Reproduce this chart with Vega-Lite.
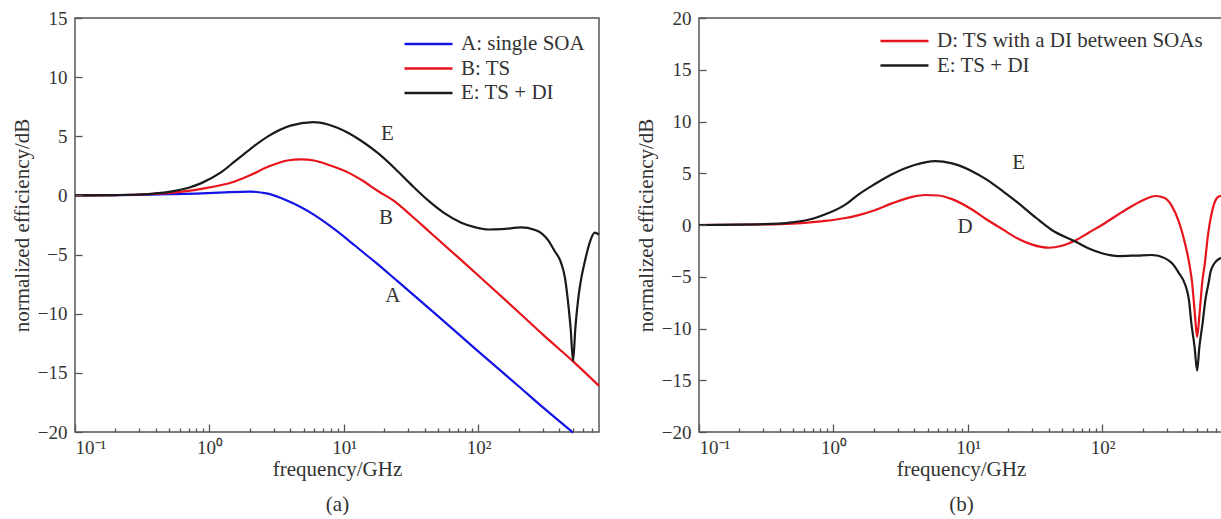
{
  "$schema": "https://vega.github.io/schema/vega-lite/v6.json",
  "padding": {"left": 10, "top": 8, "right": 0, "bottom": 0},
  "background": "white",
  "spacing": 29,
  "config": {
    "view": {"stroke": "#555", "strokeWidth": 1.5},
    "font": "Liberation Serif",
    "axis": {
      "grid": false,
      "domain": false,
      "ticks": true,
      "tickColor": "#555",
      "tickWidth": 1.3,
      "labelFont": "Liberation Serif",
      "labelFontSize": 19,
      "labelColor": "#333",
      "titleFont": "Liberation Serif",
      "titleFontSize": 21,
      "titleFontWeight": "normal",
      "titleColor": "#333"
    },
    "legend": {
      "labelFont": "Liberation Serif",
      "labelFontSize": 21,
      "labelColor": "#333",
      "labelLimit": 500,
      "symbolType": "M-4,0H4",
      "symbolStrokeWidth": 2.5,
      "symbolSize": 144,
      "labelOffset": 22,
      "rowPadding": 2.5,
      "padding": 0,
      "title": null
    },
    "text": {"font": "Liberation Serif", "fontSize": 21, "color": "#333"}
  },
  "datasets": {
    "a": [
      {"s": "A: single SOA", "f": 0.1, "v": 0},
      {"s": "A: single SOA", "f": 0.2, "v": 0.02},
      {"s": "A: single SOA", "f": 0.3, "v": 0.05},
      {"s": "A: single SOA", "f": 0.5, "v": 0.1},
      {"s": "A: single SOA", "f": 0.87, "v": 0.17},
      {"s": "A: single SOA", "f": 1.3, "v": 0.26},
      {"s": "A: single SOA", "f": 2.0, "v": 0.32},
      {"s": "A: single SOA", "f": 2.72, "v": 0.15},
      {"s": "A: single SOA", "f": 3.8, "v": -0.45},
      {"s": "A: single SOA", "f": 4.8, "v": -1.0},
      {"s": "A: single SOA", "f": 6.0, "v": -1.65},
      {"s": "A: single SOA", "f": 7.6, "v": -2.45},
      {"s": "A: single SOA", "f": 10.7, "v": -3.75},
      {"s": "A: single SOA", "f": 13.5, "v": -4.7},
      {"s": "A: single SOA", "f": 16.9, "v": -5.6},
      {"s": "A: single SOA", "f": 25, "v": -7.25},
      {"s": "A: single SOA", "f": 50, "v": -10.2},
      {"s": "A: single SOA", "f": 100, "v": -13.2},
      {"s": "A: single SOA", "f": 200, "v": -16.15},
      {"s": "A: single SOA", "f": 300, "v": -17.9},
      {"s": "A: single SOA", "f": 505, "v": -20.05},
      {"s": "B: TS", "f": 0.1, "v": 0},
      {"s": "B: TS", "f": 0.2, "v": 0.03},
      {"s": "B: TS", "f": 0.3, "v": 0.08},
      {"s": "B: TS", "f": 0.5, "v": 0.22},
      {"s": "B: TS", "f": 0.87, "v": 0.56},
      {"s": "B: TS", "f": 1.54, "v": 1.18},
      {"s": "B: TS", "f": 2.0, "v": 1.7},
      {"s": "B: TS", "f": 2.72, "v": 2.42},
      {"s": "B: TS", "f": 3.8, "v": 2.95},
      {"s": "B: TS", "f": 4.8, "v": 3.05},
      {"s": "B: TS", "f": 6.0, "v": 2.95},
      {"s": "B: TS", "f": 7.6, "v": 2.6},
      {"s": "B: TS", "f": 10.7, "v": 1.95},
      {"s": "B: TS", "f": 13.5, "v": 1.3},
      {"s": "B: TS", "f": 18, "v": 0.35},
      {"s": "B: TS", "f": 23.8, "v": -0.5},
      {"s": "B: TS", "f": 31.6, "v": -1.7},
      {"s": "B: TS", "f": 42, "v": -2.95},
      {"s": "B: TS", "f": 70, "v": -5.2},
      {"s": "B: TS", "f": 105, "v": -7.0},
      {"s": "B: TS", "f": 200, "v": -9.9},
      {"s": "B: TS", "f": 300, "v": -11.75},
      {"s": "B: TS", "f": 505, "v": -14.03},
      {"s": "B: TS", "f": 787, "v": -16.1},
      {"s": "E: TS + DI", "f": 0.1, "v": 0},
      {"s": "E: TS + DI", "f": 0.2, "v": 0.03},
      {"s": "E: TS + DI", "f": 0.33, "v": 0.1},
      {"s": "E: TS + DI", "f": 0.5, "v": 0.3},
      {"s": "E: TS + DI", "f": 0.7, "v": 0.65},
      {"s": "E: TS + DI", "f": 0.87, "v": 1.04},
      {"s": "E: TS + DI", "f": 1.2, "v": 1.9},
      {"s": "E: TS + DI", "f": 1.54, "v": 2.87},
      {"s": "E: TS + DI", "f": 2.0, "v": 3.9},
      {"s": "E: TS + DI", "f": 2.72, "v": 4.99},
      {"s": "E: TS + DI", "f": 4.0, "v": 5.9},
      {"s": "E: TS + DI", "f": 5.9, "v": 6.2},
      {"s": "E: TS + DI", "f": 7.6, "v": 6.0},
      {"s": "E: TS + DI", "f": 10.7, "v": 5.3},
      {"s": "E: TS + DI", "f": 13.5, "v": 4.6},
      {"s": "E: TS + DI", "f": 18, "v": 3.55},
      {"s": "E: TS + DI", "f": 23.8, "v": 2.3},
      {"s": "E: TS + DI", "f": 32, "v": 0.85},
      {"s": "E: TS + DI", "f": 42, "v": -0.4},
      {"s": "E: TS + DI", "f": 55, "v": -1.45},
      {"s": "E: TS + DI", "f": 74.5, "v": -2.3},
      {"s": "E: TS + DI", "f": 95, "v": -2.7},
      {"s": "E: TS + DI", "f": 118, "v": -2.88},
      {"s": "E: TS + DI", "f": 150, "v": -2.85},
      {"s": "E: TS + DI", "f": 208, "v": -2.7},
      {"s": "E: TS + DI", "f": 260, "v": -2.9},
      {"s": "E: TS + DI", "f": 293, "v": -3.18},
      {"s": "E: TS + DI", "f": 330, "v": -3.8},
      {"s": "E: TS + DI", "f": 368, "v": -4.7},
      {"s": "E: TS + DI", "f": 408, "v": -5.6},
      {"s": "E: TS + DI", "f": 440, "v": -7.0},
      {"s": "E: TS + DI", "f": 457, "v": -8.4},
      {"s": "E: TS + DI", "f": 484, "v": -11.2},
      {"s": "E: TS + DI", "f": 505, "v": -14.0},
      {"s": "E: TS + DI", "f": 525, "v": -11.2},
      {"s": "E: TS + DI", "f": 556, "v": -8.4},
      {"s": "E: TS + DI", "f": 581, "v": -7.0},
      {"s": "E: TS + DI", "f": 617, "v": -5.6},
      {"s": "E: TS + DI", "f": 680, "v": -3.8},
      {"s": "E: TS + DI", "f": 731, "v": -3.15},
      {"s": "E: TS + DI", "f": 787, "v": -3.3}
    ],
    "b": [
      {"s": "D: TS with a DI between SOAs", "f": 0.1, "v": 0},
      {"s": "D: TS with a DI between SOAs", "f": 0.3, "v": 0.05},
      {"s": "D: TS with a DI between SOAs", "f": 0.49, "v": 0.13},
      {"s": "D: TS with a DI between SOAs", "f": 0.87, "v": 0.39},
      {"s": "D: TS with a DI between SOAs", "f": 1.2, "v": 0.65},
      {"s": "D: TS with a DI between SOAs", "f": 1.54, "v": 0.96},
      {"s": "D: TS with a DI between SOAs", "f": 2.0, "v": 1.4},
      {"s": "D: TS with a DI between SOAs", "f": 2.72, "v": 2.09},
      {"s": "D: TS with a DI between SOAs", "f": 3.8, "v": 2.7},
      {"s": "D: TS with a DI between SOAs", "f": 4.8, "v": 2.9},
      {"s": "D: TS with a DI between SOAs", "f": 6.0, "v": 2.85},
      {"s": "D: TS with a DI between SOAs", "f": 7.6, "v": 2.5},
      {"s": "D: TS with a DI between SOAs", "f": 10.7, "v": 1.5},
      {"s": "D: TS with a DI between SOAs", "f": 13.5, "v": 0.6},
      {"s": "D: TS with a DI between SOAs", "f": 18, "v": -0.4},
      {"s": "D: TS with a DI between SOAs", "f": 23.8, "v": -1.35},
      {"s": "D: TS with a DI between SOAs", "f": 30, "v": -1.9},
      {"s": "D: TS with a DI between SOAs", "f": 39.8, "v": -2.2},
      {"s": "D: TS with a DI between SOAs", "f": 50, "v": -2.0},
      {"s": "D: TS with a DI between SOAs", "f": 62.8, "v": -1.5},
      {"s": "D: TS with a DI between SOAs", "f": 80, "v": -0.7},
      {"s": "D: TS with a DI between SOAs", "f": 99, "v": 0},
      {"s": "D: TS with a DI between SOAs", "f": 148, "v": 1.45},
      {"s": "D: TS with a DI between SOAs", "f": 200, "v": 2.4},
      {"s": "D: TS with a DI between SOAs", "f": 247, "v": 2.8},
      {"s": "D: TS with a DI between SOAs", "f": 290, "v": 2.6},
      {"s": "D: TS with a DI between SOAs", "f": 329, "v": 1.8},
      {"s": "D: TS with a DI between SOAs", "f": 370, "v": 0.3},
      {"s": "D: TS with a DI between SOAs", "f": 413, "v": -1.9},
      {"s": "D: TS with a DI between SOAs", "f": 440, "v": -3.6},
      {"s": "D: TS with a DI between SOAs", "f": 463, "v": -5.5},
      {"s": "D: TS with a DI between SOAs", "f": 485, "v": -8.4},
      {"s": "D: TS with a DI between SOAs", "f": 505, "v": -10.8},
      {"s": "D: TS with a DI between SOAs", "f": 528, "v": -8.4},
      {"s": "D: TS with a DI between SOAs", "f": 552, "v": -5.5},
      {"s": "D: TS with a DI between SOAs", "f": 578, "v": -3.6},
      {"s": "D: TS with a DI between SOAs", "f": 608, "v": -1.0},
      {"s": "D: TS with a DI between SOAs", "f": 652, "v": 1.3},
      {"s": "D: TS with a DI between SOAs", "f": 700, "v": 2.5},
      {"s": "D: TS with a DI between SOAs", "f": 731, "v": 2.75},
      {"s": "D: TS with a DI between SOAs", "f": 787, "v": 2.85},
      {"s": "E: TS + DI", "f": 0.1, "v": 0},
      {"s": "E: TS + DI", "f": 0.3, "v": 0.08},
      {"s": "E: TS + DI", "f": 0.49, "v": 0.26},
      {"s": "E: TS + DI", "f": 0.7, "v": 0.6},
      {"s": "E: TS + DI", "f": 0.87, "v": 1.03},
      {"s": "E: TS + DI", "f": 1.2, "v": 1.9},
      {"s": "E: TS + DI", "f": 1.54, "v": 2.96},
      {"s": "E: TS + DI", "f": 2.0, "v": 3.9},
      {"s": "E: TS + DI", "f": 2.72, "v": 4.9},
      {"s": "E: TS + DI", "f": 4.0, "v": 5.8},
      {"s": "E: TS + DI", "f": 5.7, "v": 6.17},
      {"s": "E: TS + DI", "f": 7.6, "v": 5.95},
      {"s": "E: TS + DI", "f": 10.7, "v": 5.2},
      {"s": "E: TS + DI", "f": 13.5, "v": 4.45},
      {"s": "E: TS + DI", "f": 18, "v": 3.3},
      {"s": "E: TS + DI", "f": 23.8, "v": 2.09},
      {"s": "E: TS + DI", "f": 32, "v": 0.7},
      {"s": "E: TS + DI", "f": 42, "v": -0.48},
      {"s": "E: TS + DI", "f": 62.8, "v": -1.6},
      {"s": "E: TS + DI", "f": 80, "v": -2.3},
      {"s": "E: TS + DI", "f": 99, "v": -2.73},
      {"s": "E: TS + DI", "f": 132, "v": -3.0},
      {"s": "E: TS + DI", "f": 180, "v": -2.95},
      {"s": "E: TS + DI", "f": 233, "v": -2.9},
      {"s": "E: TS + DI", "f": 290, "v": -3.2},
      {"s": "E: TS + DI", "f": 329, "v": -3.7},
      {"s": "E: TS + DI", "f": 368, "v": -4.6},
      {"s": "E: TS + DI", "f": 413, "v": -5.8},
      {"s": "E: TS + DI", "f": 440, "v": -7.3},
      {"s": "E: TS + DI", "f": 457, "v": -9.4},
      {"s": "E: TS + DI", "f": 484, "v": -11.8},
      {"s": "E: TS + DI", "f": 505, "v": -14.07},
      {"s": "E: TS + DI", "f": 525, "v": -11.8},
      {"s": "E: TS + DI", "f": 556, "v": -9.4},
      {"s": "E: TS + DI", "f": 581, "v": -7.3},
      {"s": "E: TS + DI", "f": 617, "v": -5.5},
      {"s": "E: TS + DI", "f": 634, "v": -4.6},
      {"s": "E: TS + DI", "f": 680, "v": -3.7},
      {"s": "E: TS + DI", "f": 731, "v": -3.3},
      {"s": "E: TS + DI", "f": 787, "v": -3.15}
    ],
    "la": [
      {"t": "E", "f": 21, "v": 5.2},
      {"t": "B", "f": 20.5, "v": -1.9},
      {"t": "A", "f": 23.1, "v": -8.5}
    ],
    "lb": [
      {"t": "E", "f": 23.8, "v": 6.0},
      {"t": "D", "f": 9.5, "v": -0.2}
    ]
  },
  "resolve": {"scale": {"color": "independent", "y": "independent"}},
  "hconcat": [
    {
      "width": 524,
      "height": 414,
      "layer": [
        {
          "data": {"name": "a"},
          "mark": {"type": "line", "strokeWidth": 2.2, "interpolate": "monotone"},
          "encoding": {
            "x": {
              "field": "f", "type": "quantitative",
              "scale": {"type": "log", "domain": [0.1, 787], "nice": false},
              "axis": {
                "title": ["frequency/GHz", "(a)"],
                "titleLineHeight": 35,
                "titlePadding": 1,
                "offset": -8,
                "tickSize": 8,
                "zindex": 1,
                "values": [0.1,0.2,0.3,0.4,0.5,0.6,0.7,0.8,0.9,1,2,3,4,5,6,7,8,9,10,20,30,40,50,60,70,80,90,100,200,300,400,500,600,700],
                "labelExpr": "datum.value == 0.1 ? '10⁻¹' : datum.value == 1 ? '10⁰' : datum.value == 10 ? '10¹' : datum.value == 100 ? '10²' : ''",
                "labelOverlap": false,
                "labelPadding": 6,
                "tickDash": {"condition": {"test": "abs(log(datum.value)/LN10 - round(log(datum.value)/LN10)) < 0.01", "value": [8, 0]}, "value": [0, 4, 4, 100]}
              }
            },
            "y": {
              "field": "v", "type": "quantitative",
              "scale": {"domain": [-20, 15], "nice": false},
              "axis": {
                "title": "normalized efficiency/dB",
                "values": [-20,-15,-10,-5,0,5,10,15],
                "offset": -7,
                "tickSize": 7,
                "zindex": 1,
                "labelPadding": 8,
                "titlePadding": 5
              }
            },
            "color": {
              "field": "s", "type": "nominal",
              "scale": {"domain": ["A: single SOA", "B: TS", "E: TS + DI"], "range": ["#1414e6", "#e8141c", "#1a1a1a"]},
              "legend": {"orient": "none", "legendX": 343, "legendY": 15.5}
            }
          }
        },
        {
          "data": {"name": "la"},
          "mark": {"type": "text"},
          "encoding": {
            "x": {"field": "f", "type": "quantitative"},
            "y": {"field": "v", "type": "quantitative"},
            "text": {"field": "t"}
          }
        }
      ]
    },
    {
      "width": 524,
      "height": 414,
      "layer": [
        {
          "data": {"name": "b"},
          "mark": {"type": "line", "strokeWidth": 2.2, "interpolate": "monotone"},
          "encoding": {
            "x": {
              "field": "f", "type": "quantitative",
              "scale": {"type": "log", "domain": [0.1, 787], "nice": false},
              "axis": {
                "title": ["frequency/GHz", "(b)"],
                "titleLineHeight": 35,
                "titlePadding": 1,
                "offset": -8,
                "tickSize": 8,
                "zindex": 1,
                "values": [0.1,0.2,0.3,0.4,0.5,0.6,0.7,0.8,0.9,1,2,3,4,5,6,7,8,9,10,20,30,40,50,60,70,80,90,100,200,300,400,500,600,700],
                "labelExpr": "datum.value == 0.1 ? '10⁻¹' : datum.value == 1 ? '10⁰' : datum.value == 10 ? '10¹' : datum.value == 100 ? '10²' : ''",
                "labelOverlap": false,
                "labelPadding": 6,
                "tickDash": {"condition": {"test": "abs(log(datum.value)/LN10 - round(log(datum.value)/LN10)) < 0.01", "value": [8, 0]}, "value": [0, 4, 4, 100]}
              }
            },
            "y": {
              "field": "v", "type": "quantitative",
              "scale": {"domain": [-20, 20], "nice": false},
              "axis": {
                "title": "normalized efficiency/dB",
                "values": [-20,-15,-10,-5,0,5,10,15,20],
                "offset": -7,
                "tickSize": 7,
                "zindex": 1,
                "labelPadding": 8,
                "titlePadding": 5
              }
            },
            "color": {
              "field": "s", "type": "nominal",
              "scale": {"domain": ["D: TS with a DI between SOAs", "E: TS + DI"], "range": ["#e8141c", "#1a1a1a"]},
              "legend": {"orient": "none", "legendX": 195, "legendY": 12.5}
            }
          }
        },
        {
          "data": {"name": "lb"},
          "mark": {"type": "text"},
          "encoding": {
            "x": {"field": "f", "type": "quantitative"},
            "y": {"field": "v", "type": "quantitative"},
            "text": {"field": "t"}
          }
        }
      ]
    }
  ]
}
